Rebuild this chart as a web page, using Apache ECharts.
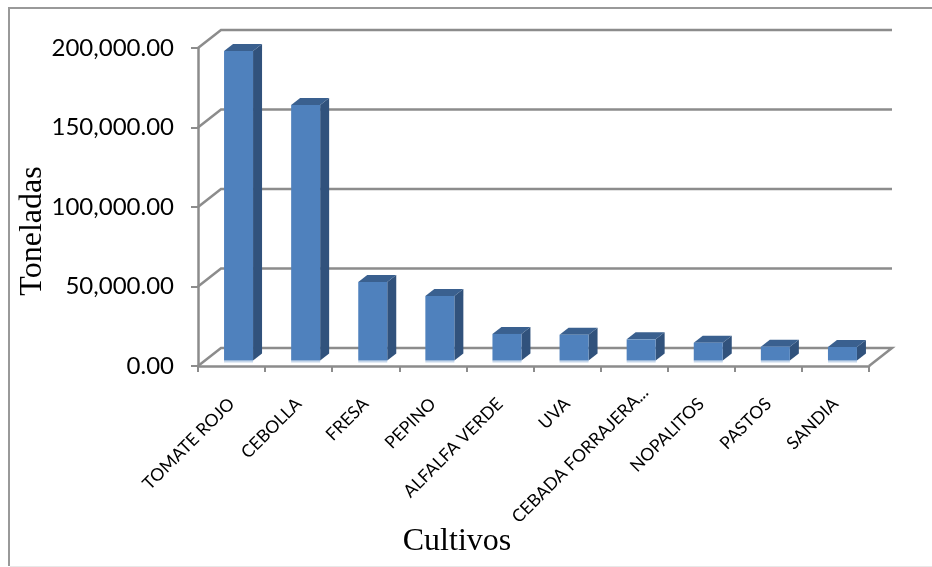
<!DOCTYPE html>
<html><head><meta charset="utf-8">
<style>html,body{margin:0;padding:0;background:#fff}#c{width:932px;height:567px}</style>
<script src="https://cdn.jsdelivr.net/npm/echarts@6/dist/echarts.min.js"></script>
</head><body><div id="c"></div>
<script>
const categories = ['TOMATE ROJO','CEBOLLA','FRESA','PEPINO','ALFALFA VERDE','UVA','CEBADA FORRAJERA...','NOPALITOS','PASTOS','SANDIA'];
const toneladas = [194700,160700,49400,40600,16700,16200,13300,11200,8700,8500];
const yTicks = [0,50000,100000,150000,200000];
const xTitle = 'Cultivos', yTitle = 'Toneladas';
const GRID = '#8c8c8c';
const backDx = 23, backDy = -18;
const barW = 29, barShiftX = 7, barShiftY = -5.5, sideDx = 9, sideDy = -7;

const chart = echarts.init(document.getElementById('c'), null, {renderer:'canvas'});
chart.setOption({
  animation:false,
  backgroundColor:'#fff',
  grid:{left:198,right:63,top:48,bottom:201,outerBoundsMode:'none',containLabel:false},
  graphic:[
    {type:'polyline',z:-10,shape:{points:[[9,566],[9,8],[932,8]]},style:{fill:'none',stroke:'#999999',lineWidth:2}},
    {type:'line',z:-10,shape:{x1:10,y1:566.5,x2:932,y2:566.5},style:{stroke:'#e8e8e8',lineWidth:1}},
    {type:'text',x:457,y:542,style:{text:xTitle,fontFamily:'Liberation Serif',fontSize:32,fill:'#000',align:'center',verticalAlign:'middle'}},
    {type:'text',x:33,y:231,rotation:Math.PI/2,style:{text:yTitle,fontFamily:'Liberation Serif',fontSize:32,fill:'#000',align:'center',verticalAlign:'middle'}}
  ],
  xAxis:{type:'category',
    data:categories.map(c=>c.endsWith('...')?{value:c,textStyle:{padding:[0,-16,0,0]}}:c),
    axisLine:{show:true,lineStyle:{color:GRID,width:2.5}},
    axisTick:{show:true,alignWithLabel:false,length:6,lineStyle:{color:GRID,width:2}},
    axisLabel:{interval:0,rotate:45,margin:35,fontFamily:'Lato',fontSize:17.5,color:'#000'}},
  yAxis:{type:'value',min:0,max:200000,interval:50000,
    axisLine:{show:true,lineStyle:{color:GRID,width:2.5}},
    axisTick:{show:true,length:7,lineStyle:{color:GRID,width:2}},
    splitLine:{show:false},
    axisLabel:{margin:24,fontFamily:'Lato',fontSize:24,color:'#000',
      formatter:v=>v.toLocaleString('en-US',{minimumFractionDigits:2,maximumFractionDigits:2})}},
  series:[
    {type:'custom',z:1,silent:true,data:yTicks,encode:{y:0},
      renderItem(p,api){
        const v=api.value(0), a=api.coord([0,v]);
        const x0=p.coordSys.x, x1=p.coordSys.x+p.coordSys.width, y=a[1];
        const pts=[[x0,y],[x0+backDx,y+backDy],[x1+backDx,y+backDy]];
        if(v===0) pts.push([x1,y]);
        return {type:'polyline',shape:{points:pts},style:{fill:null,stroke:GRID,lineWidth:2.5}};
      }},
    {type:'custom',z:2,silent:true,data:toneladas.map((v,i)=>[i,v]),encode:{x:0,y:1},
      renderItem(p,api){
        const i=api.value(0), v=api.value(1);
        const b=api.coord([i,0]), t=api.coord([i,v]);
        const x=b[0]-barW/2+barShiftX, x2=x+barW, yb=b[1]+barShiftY, yt=t[1]+barShiftY;
        return {type:'group',children:[
          {type:'rect',shape:{x:x,y:yb,width:barW,height:2},style:{fill:'#c5d6ea'}},
          {type:'polygon',shape:{points:[[x2,yt],[x2+sideDx,yt+sideDy],[x2+sideDx,yb+sideDy],[x2,yb]]},style:{fill:'#31527c'}},
          {type:'polygon',shape:{points:[[x,yt],[x+sideDx,yt+sideDy],[x2+sideDx,yt+sideDy],[x2,yt]]},style:{fill:'#3a608f'}},
          {type:'rect',shape:{x:x,y:yt,width:barW,height:yb-yt},style:{fill:'#4f81bd'}}
        ]};
      }}
  ]
});
</script></body></html>
